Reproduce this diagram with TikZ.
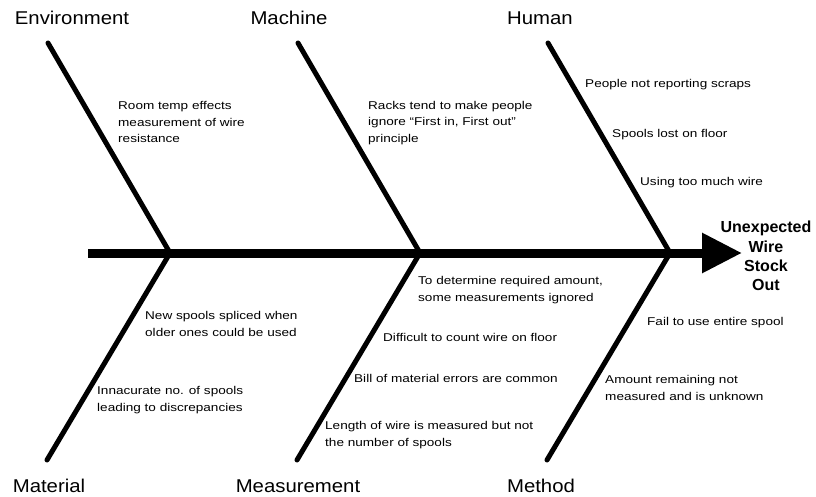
\documentclass[tikz,border=0pt]{standalone}
\usepackage{fontspec}
\setmainfont{Liberation Sans}
\newfontfamily\catfont[FakeStretch=1.1]{Liberation Sans}
\newfontfamily\notefont[FakeStretch=1.2]{Liberation Sans}
\usetikzlibrary{arrows.meta}
\begin{document}
\begin{tikzpicture}[x=1pt,y=-1pt,
  spine/.style={line width=9pt,-{Triangle[length=40pt,width=38pt]}},
  bone/.style={line width=5pt,line cap=round},
  category/.style={inner sep=0pt,font=\catfont\fontsize{18.5}{22}\selectfont},
  note/.style={inner sep=0pt,anchor=west,align=left,
    font=\notefont\fontsize{11.3}{16.5}\selectfont},
  effect/.style={inner sep=0pt,align=center,
    font=\bfseries\fontsize{16}{19.3}\selectfont}]
\useasboundingbox (0,0) rectangle (816,497);

% spine and head
\coordinate (tail) at (88,253);
\coordinate (head) at (742,253);
\draw[spine] (tail) -- (head);
\node[effect] (problem) at (766,256)
  {Unexpected\\Wire\\Stock\\Out};

% junctions on the spine
\coordinate (j1) at (170,253);
\coordinate (j2) at (420,253);
\coordinate (j3) at (670,253);

% upper bones
\coordinate (u1) at (48,43);
\coordinate (u2) at (298,43);
\coordinate (u3) at (548,43);
\draw[bone] (u1) -- (j1);
\draw[bone] (u2) -- (j2);
\draw[bone] (u3) -- (j3);

% lower bones
\coordinate (l1) at (47,460);
\coordinate (l2) at (297,460);
\coordinate (l3) at (547,460);
\draw[bone] (l1) -- (j1);
\draw[bone] (l2) -- (j2);
\draw[bone] (l3) -- (j3);

% category labels
\node[category] (environment) at (72,18) {Environment};
\node[category] (machine) at (289,18) {Machine};
\node[category] (human) at (540,18) {Human};
\node[category] (material) at (49,486) {Material};
\node[category] (measurement) at (298,486) {Measurement};
\node[category] (method) at (541,486) {Method};

% causes: environment
\node[note] (c1) at (118,122) {Room temp effects\\measurement of wire\\resistance};
% causes: machine
\node[note] (c2) at (368,123) {Racks tend to make people\\ignore “First in, First out”\\principle};
% causes: human
\node[note] (c3) at (585,85) {People not reporting scraps};
\node[note] (c4) at (612,135) {Spools lost on floor};
\node[note] (c5) at (640,183) {Using too much wire};
% causes: material
\node[note] (c6) at (145,324) {New spools spliced when\\older ones could be used};
\node[note] (c7) at (97,400) {Innacurate no. of spools\\leading to discrepancies};
% causes: measurement
\node[note] (c8) at (418,290) {To determine required amount,\\some measurements ignored};
\node[note] (c9) at (383,337) {Difficult to count wire on floor};
\node[note] (c10) at (354,378) {Bill of material errors are common};
\node[note] (c11) at (325,435) {Length of wire is measured but not\\the number of spools};
% causes: method
\node[note] (c12) at (647,323) {Fail to use entire spool};
\node[note] (c13) at (605,388) {Amount remaining not\\measured and is unknown};
\end{tikzpicture}
\end{document}
